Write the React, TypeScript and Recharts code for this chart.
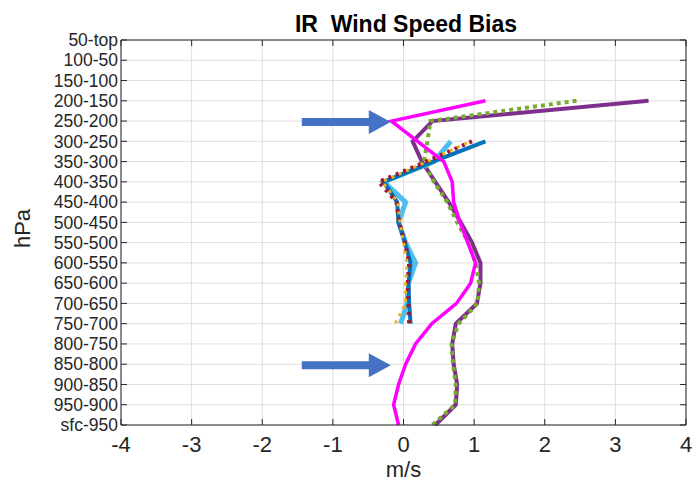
import { LineChart, Line, XAxis, YAxis, CartesianGrid, ReferenceLine } from "recharts"

const levels = [
  "50-top", "100-50", "150-100", "200-150", "250-200", "300-250", "350-300",
  "400-350", "450-400", "500-450", "550-500", "600-550", "650-600", "700-650",
  "750-700", "800-750", "850-800", "900-850", "950-900", "sfc-950",
]

const xTicks = [-4, -3, -2, -1, 0, 1, 2, 3, 4]

const magenta = [null, null, null, 1.16, -0.17, 0.2, 0.57, 0.69, 0.71, 0.8, 0.91, 1.02, 0.95, 0.75, 0.4, 0.17, 0.03, -0.07, -0.14, -0.07]
const purple = [null, null, null, 3.47, 0.41, 0.13, 0.26, 0.45, 0.64, 0.81, 0.97, 1.09, 1.09, 1.04, 0.74, 0.69, 0.71, 0.76, 0.74, 0.45]
const green = [null, null, null, 2.45, 0.38, 0.34, 0.29, 0.43, 0.62, 0.76, 0.92, 1.02, 1.07, 1.05, 0.78, 0.68, 0.7, 0.74, 0.73, 0.41]
const lightBlue = [null, null, null, null, null, 0.67, 0.43, -0.28, 0.03, -0.07, 0.03, 0.17, 0.07, 0.05, -0.04, null, null, null, null, null]
const darkBlue = [null, null, null, null, null, 1.16, 0.42, -0.28, -0.09, -0.07, 0.02, 0.1, 0.07, 0.08, 0.1, null, null, null, null, null]
const red = [null, null, null, null, null, 0.97, 0.32, -0.35, -0.1, -0.06, 0.02, 0.08, 0.06, 0.07, 0.08, null, null, null, null, null]
const orange = [null, null, null, null, null, 0.95, 0.33, -0.3, -0.08, -0.05, 0, 0.05, 0.03, 0.03, -0.12, null, null, null, null, null]

const arrowLevels = ["250-200", "850-800"]
const arrowFrom = -1.44
const arrowTo = -0.18

const data = levels.map((level, i) => ({
  level,
  magenta: magenta[i],
  purple: purple[i],
  green: green[i],
  lightBlue: lightBlue[i],
  darkBlue: darkBlue[i],
  red: red[i],
  orange: orange[i],
}))

const W = 698
const H = 482
const M = { top: 40, right: 12, bottom: 0, left: 0 }
const Y_W = 121
const X_H = 57
const PL = M.left + Y_W
const PR = W - M.right
const PT = M.top
const PB = H - M.bottom - X_H

const FONT = "'Liberation Sans', Arial, Helvetica, sans-serif"
const INK = "#262626"

const YTick = (props: any) => {
  const { x, y, payload } = props
  return (
    <g>
      <text x={x} y={y} dy="0.355em" textAnchor="end" fontSize={17.5} fill={INK} fontFamily={FONT}>
        {payload.value}
      </text>
      <line x1={PL} x2={PL + 6} y1={y} y2={y} stroke={INK} />
      <line x1={PR - 6} x2={PR} y1={y} y2={y} stroke={INK} />
    </g>
  )
}

const XTick = (props: any) => {
  const { x, y, payload } = props
  return (
    <g>
      <text x={x} y={y} dy="0.71em" textAnchor="middle" fontSize={22} fill={INK} fontFamily={FONT}>
        {payload.value}
      </text>
      <line x1={x} x2={x} y1={PB} y2={PB - 6} stroke={INK} />
      <line x1={x} x2={x} y1={PT} y2={PT + 6} stroke={INK} />
    </g>
  )
}

const Arrow = (props: any) => {
  const { x1, y1, x2 } = props
  const head = 22
  const y = y1 + 1
  const pts = [
    [x1, y - 4], [x2 - head, y - 4], [x2 - head, y - 12], [x2, y],
    [x2 - head, y + 12], [x2 - head, y + 4], [x1, y + 4],
  ]
  return <polygon points={pts.map((p) => p.join(",")).join(" ")} fill="#4472C4" />
}

const YLabel = (props: any) => {
  const { viewBox } = props
  const cy = viewBox.y + viewBox.height / 2 - 4
  return (
    <text x={22} y={cy} transform={`rotate(-90 22 ${cy})`} textAnchor="middle" dy="0.355em" fontSize={22} fill={INK} fontFamily={FONT}>
      hPa
    </text>
  )
}

export default function App() {
  return (
    <div style={{ position: "absolute", left: 0, top: 0, width: W, height: H, background: "#fff" }}>
      <LineChart width={W} height={H} data={data} layout="vertical" margin={M}>
        <CartesianGrid stroke="#dfdfdf" />
        <XAxis
          type="number"
          domain={[-4, 4]}
          ticks={xTicks}
          height={X_H}
          tickSize={0}
          tickMargin={11}
          tick={<XTick />}
          stroke={INK}
          label={{ value: "m/s", position: "insideBottom", offset: 5, fontSize: 22, fill: INK, fontFamily: FONT }}
        />
        <YAxis
          type="category"
          dataKey="level"
          width={Y_W}
          interval={0}
          tickSize={0}
          tickMargin={3}
          tick={<YTick />}
          stroke={INK}
          label={<YLabel />}
        />
        <ReferenceLine x={4} stroke={INK} />
        <ReferenceLine y="50-top" stroke={INK} />
        <Line dataKey="purple" stroke="#7E2F8E" strokeWidth={4} dot={false} isAnimationActive={false} />
        <Line dataKey="green" stroke="#77AC30" strokeWidth={4} strokeDasharray="4 4" dot={false} isAnimationActive={false} />
        <Line dataKey="lightBlue" stroke="#4DBEEE" strokeWidth={5} dot={false} isAnimationActive={false} />
        <Line dataKey="darkBlue" stroke="#0072BD" strokeWidth={4} dot={false} isAnimationActive={false} />
        <Line dataKey="red" stroke="#A2142F" strokeWidth={4} strokeDasharray="3 5" dot={false} isAnimationActive={false} />
        <Line dataKey="orange" stroke="#EDB120" strokeWidth={3} strokeDasharray="3 5" strokeDashoffset={4} dot={false} isAnimationActive={false} />
        <Line dataKey="magenta" stroke="#FF00FF" strokeWidth={3.5} dot={false} isAnimationActive={false} />
        {arrowLevels.map((lv) => (
          <ReferenceLine
            key={lv}
            segment={[{ x: arrowFrom, y: lv }, { x: arrowTo, y: lv }]}
            shape={<Arrow />}
          />
        ))}
      </LineChart>
      <svg width={W} height={40} style={{ position: "absolute", left: 0, top: 0, pointerEvents: "none" }}>
        <text x={406} y={31.5} textAnchor="middle" fontSize={23} fontWeight="bold" fill="#000" fontFamily={FONT}>
          IR{"\u00a0\u00a0"}Wind Speed Bias
        </text>
      </svg>
    </div>
  )
}
